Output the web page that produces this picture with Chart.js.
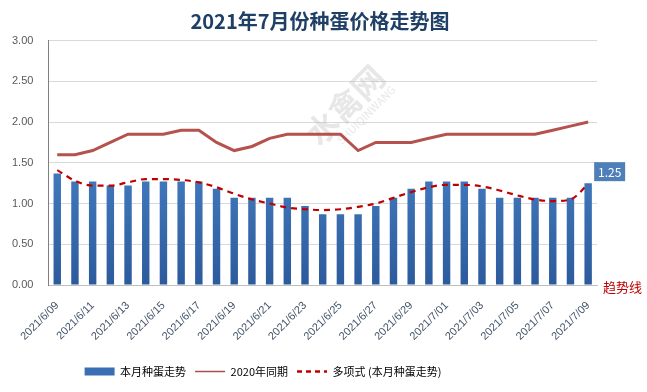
<!DOCTYPE html>
<html><head><meta charset="utf-8">
<script src="https://cdn.jsdelivr.net/npm/chart.js@4/dist/chart.umd.min.js"></script>
<style>html,body{margin:0;padding:0;background:#fff}#wrap{width:647px;height:392px;position:relative}</style>
</head><body><div id="wrap"><canvas id="c" width="647" height="392"></canvas></div>
<script>
const categories = ["2021/6/09","2021/6/10","2021/6/11","2021/6/12","2021/6/13","2021/6/14","2021/6/15","2021/6/16","2021/6/17","2021/6/18","2021/6/19","2021/6/20","2021/6/21","2021/6/22","2021/6/23","2021/6/24","2021/6/25","2021/6/26","2021/6/27","2021/6/28","2021/6/29","2021/6/30","2021/7/01","2021/7/02","2021/7/03","2021/7/04","2021/7/05","2021/7/06","2021/7/07","2021/7/08","2021/7/09"];
const thisMonth = [1.37,1.27,1.27,1.22,1.22,1.27,1.27,1.27,1.27,1.18,1.07,1.07,1.07,1.07,0.97,0.87,0.87,0.87,0.97,1.07,1.18,1.27,1.27,1.27,1.18,1.07,1.07,1.07,1.07,1.07,1.25];
const lastYear = [1.60,1.60,1.65,1.75,1.85,1.85,1.85,1.90,1.90,1.75,1.65,1.70,1.80,1.85,1.85,1.85,1.85,1.65,1.75,1.75,1.75,1.80,1.85,1.85,1.85,1.85,1.85,1.85,1.90,1.95,2.00];
const trendValues = [1.41,1.28,1.22,1.22,1.26,1.30,1.30,1.29,1.26,1.20,1.12,1.05,1.00,0.95,0.93,0.92,0.93,0.96,1.00,1.07,1.14,1.20,1.23,1.23,1.21,1.16,1.10,1.05,1.03,1.05,1.24];
const yTicks = [0,0.5,1,1.5,2,2.5,3];
const seriesNames = ["本月种蛋走势","2020年同期","多项式 (本月种蛋走势)"];
const titleText = "2021年7月份种蛋价格走势图";
const trendLabel = "趋势线";

const FONT = "'Noto Sans CJK SC','Noto Sans',sans-serif";

const extras = {
  id: 'extras',
  afterLayout(chart) {
    const lg = chart.legend;
    if (lg) { lg.left -= 34; lg.right -= 34; }
    const tb = chart.titleBlock;
    if (tb) { tb.left += 23; tb.right += 23; }
  },
  beforeDatasetsDraw(chart) {
    const ctx = chart.ctx;
    ctx.save();
    ctx.translate(345, 105);
    ctx.rotate(-Math.PI / 4);
    ctx.fillStyle = 'rgba(185,185,185,0.35)';
    ctx.font = "bold 32px " + FONT;
    ctx.textAlign = 'center';
    ctx.fillText('水禽网', 0, 0);
    ctx.font = "11px " + FONT;
    ctx.fillText('SHUIQINWANG', 8, 22);
    ctx.restore();
  },
  afterDatasetsDraw(chart) {
    const ctx = chart.ctx;
    const meta = chart.getDatasetMeta(0);
    const last = meta.data[meta.data.length - 1];
    const val = thisMonth[thisMonth.length - 1];
    const bx = last.x + 6, by = last.y - 21;
    ctx.save();
    ctx.fillStyle = '#4f7fb8';
    ctx.fillRect(bx, by, 31, 19);
    ctx.fillStyle = '#ffffff';
    ctx.font = "12px " + FONT;
    ctx.textAlign = 'center';
    ctx.textBaseline = 'middle';
    ctx.fillText(val.toFixed(2), bx + 15.5, by + 10);
    const ya = chart.scales.y;
    ctx.fillStyle = '#c00000';
    ctx.font = "13px " + FONT;
    ctx.textAlign = 'left';
    ctx.fillText(trendLabel, 603, ya.getPixelForValue(0) + 2);
    ctx.restore();
  }
};

const ctx = document.getElementById('c').getContext('2d');
function barGrad(context) {
  const chart = context.chart;
  const area = chart.chartArea;
  if (!area) return '#3a70b5';
  const g = chart.ctx.createLinearGradient(0, area.top + 80, 0, area.bottom);
  g.addColorStop(0, '#4a86cc');
  g.addColorStop(1, '#2c5b9c');
  return g;
}

new Chart(ctx, {
  data: {
    labels: categories,
    datasets: [
      { type: 'bar', label: seriesNames[0], data: thisMonth, backgroundColor: barGrad, barPercentage: 0.42, categoryPercentage: 1, order: 3 },
      { type: 'line', label: seriesNames[1], data: lastYear, borderColor: '#b5524e', backgroundColor: '#b5524e', borderWidth: 3, pointRadius: 0, tension: 0, order: 2 },
      { type: 'line', label: seriesNames[2], data: trendValues, borderColor: '#c00000', backgroundColor: '#c00000', borderWidth: 2.2, borderDash: [6, 5], pointRadius: 0, tension: 0.4, cubicInterpolationMode: 'monotone', order: 1 }
    ]
  },
  options: {
    responsive: false,
    animation: false,
    layout: { padding: { left: -3, right: 50, top: 4, bottom: 5 } },
    plugins: {
      title: { display: true, text: titleText, color: '#1f3f66', font: { family: FONT, size: 20, weight: 'bold' }, padding: { top: 5, bottom: 7.5 } },
      legend: {
        position: 'bottom',
        labels: {
          color: '#262626', font: { family: FONT, size: 11 }, boxHeight: 8, boxWidth: 30, padding: 9,
          usePointStyle: true, pointStyleWidth: 30,
          generateLabels(chart) {
            return [
              { text: seriesNames[0], fillStyle: '#3a6fb3', strokeStyle: '#3a6fb3', lineWidth: 0, datasetIndex: 0, pointStyle: 'rect' },
              { text: seriesNames[1], fillStyle: '#a0524e', strokeStyle: '#a0524e', lineWidth: 1.5, datasetIndex: 1, pointStyle: 'line' },
              { text: seriesNames[2], fillStyle: '#c00000', strokeStyle: '#c00000', lineWidth: 2.5, lineDash: [5, 4], datasetIndex: 2, pointStyle: 'line' }
            ];
          }
        }
      },
      tooltip: { enabled: false }
    },
    scales: {
      x: {
        grid: { display: false, drawTicks: false },
        border: { display: true, color: '#bfbfbf' },
        ticks: {
          autoSkip: false, maxRotation: 45, minRotation: 45, color: '#44546a', padding: 14,
          font: { family: "'Liberation Sans',sans-serif", size: 11 },
          callback(v, i) { return i % 2 === 0 ? categories[i] : ''; }
        }
      },
      y: {
        min: 0, max: 3,
        afterBuildTicks(axis) { axis.ticks = yTicks.map(v => ({ value: v })); },
        grid: { color: '#d9d9d9', drawTicks: false },
        border: { display: true, color: '#7f7f7f' },
        ticks: { color: '#595959', padding: 15, font: { family: "'Liberation Sans',sans-serif", size: 11 }, callback(v) { return v.toFixed(2); } }
      }
    }
  },
  plugins: [extras]
});
</script></body></html>
